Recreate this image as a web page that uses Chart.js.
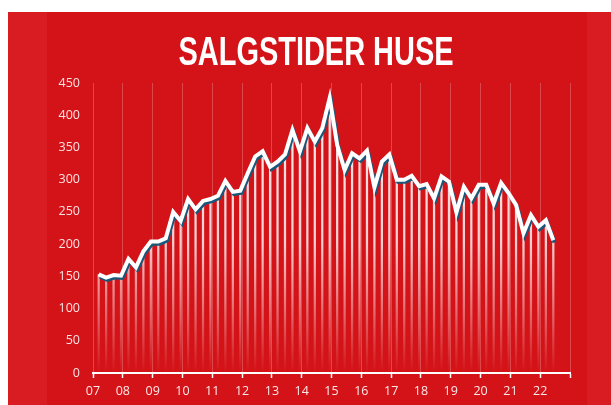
<!DOCTYPE html>
<html>
<head>
<meta charset="utf-8">
<script src="https://cdn.jsdelivr.net/npm/chart.js@4"></script>
<style>
  html, body { margin: 0; padding: 0; background: #fff; }
  #wrap { position: relative; width: 611px; height: 405px; overflow: hidden; }
  #panel {
    position: absolute; left: 8px; top: 12px; right: 0; bottom: 0;
    background: linear-gradient(to right, #d81c22 0, #d81c22 39px, #d41318 39px, #d41318 579px, #d81c22 579px);
  }
  #title {
    position: absolute; left: 316px; top: 29px; white-space: nowrap;
    font: bold 40px 'Liberation Sans', Arial, sans-serif; color: #fff;
    transform-origin: 0 0;
  }
  canvas { position: absolute; left: 0; top: 0; }
</style>
</head>
<body>
<div id="wrap">
  <div id="panel"></div>
  <canvas id="chartSalg" width="611" height="405"></canvas>
  <div id="title">SALGSTIDER HUSE</div>
</div>
<script>
// Salgstider huse, kvartalsvis fra 1. kvt. 2007
const firstYear = 2007;
const lastYear = 2023;
const yearLabels = ['07', '08', '09', '10', '11', '12', '13', '14', '15', '16', '17', '18', '19', '20', '21', '22'];
const salgstider = [
  153, 148, 152, 151, 177, 164, 189, 204, 204, 209, 250, 236,
  270, 254, 267, 270, 275, 298, 281, 283, 310, 336, 344, 320,
  328, 339, 377, 344, 380, 359, 380, 427, 354, 315, 341, 333,
  345, 288, 328, 339, 300, 300, 306, 290, 293, 271, 305, 297,
  249, 289, 271, 292, 292, 263, 295, 279, 261, 217, 245, 227,
  237, 206
];
const yMax = 450;
const yStep = 50;

// smal overskrift: skaler til ca. 275 px bredde, centreret
const titleEl = document.getElementById('title');
const tw = titleEl.getBoundingClientRect().width;
const sx = 275 / tw;
titleEl.style.transform = 'translateX(' + (-275 / 2) + 'px) scaleX(' + sx + ')';

// kvartal i -> placering på tidsaksen
const points = salgstider.map((v, i) => ({ x: firstYear + i / 4 + 0.19, y: v }));

// mørk skygge under linjen
const lineShadow = {
  id: 'lineShadow',
  beforeDatasetDraw(chart, args) {
    if (args.meta.type !== 'line') return;
    const ctx = chart.ctx;
    ctx.save();
    ctx.shadowColor = '#17587a';
    ctx.shadowOffsetX = 1.3;
    ctx.shadowOffsetY = 2.2;
    ctx.shadowBlur = 0;
  },
  afterDatasetDraw(chart, args) {
    if (args.meta.type !== 'line') return;
    chart.ctx.restore();
  }
};

function dropGradient(context) {
  const chart = context.chart;
  const area = chart.chartArea;
  if (!area) return 'rgba(255,255,255,0.7)';
  const g = chart.ctx.createLinearGradient(0, area.top, 0, area.bottom);
  g.addColorStop(0, 'rgba(255,255,255,0.95)');
  g.addColorStop(0.55, 'rgba(255,255,255,0.8)');
  g.addColorStop(1, 'rgba(255,255,255,0.0)');
  return g;
}

const labelFont = { family: "'Open Sans', sans-serif", size: 12.5 };

new Chart(document.getElementById('chartSalg'), {
  data: {
    datasets: [{
      type: 'line',
      data: points,
      borderColor: '#ffffff',
      borderWidth: 4,
      pointRadius: 0,
      tension: 0,
      order: 0
    }, {
      type: 'bar',
      data: points,
      backgroundColor: dropGradient,
      barThickness: 1.6,
      order: 1
    }]
  },
  options: {
    responsive: false,
    animation: false,
    layout: { padding: { left: 0, right: 41, top: 83, bottom: 0 } },
    plugins: {
      legend: { display: false },
      tooltip: { enabled: false }
    },
    scales: {
      x: {
        type: 'linear',
        min: firstYear,
        max: lastYear,
        offset: false,
        afterFit: (s) => { s.height = 32; },
        grid: {
          offset: false,
          color: 'rgba(255,255,255,0.22)',
          lineWidth: 1,
          drawTicks: true,
          tickLength: 5,
          tickColor: '#ffffff',
          tickWidth: 1.5
        },
        border: { display: true, color: '#ffffff', width: 2 },
        ticks: {
          stepSize: 1,
          autoSkip: false,
          maxRotation: 0,
          padding: 6,
          color: 'rgba(255,255,255,0.9)',
          font: labelFont,
          callback: (v) => yearLabels[v - firstYear] ?? ''
        }
      },
      y: {
        min: 0,
        max: yMax,
        afterFit: (s) => { s.width = 93; },
        grid: { display: false, drawTicks: false },
        border: { display: false },
        ticks: {
          stepSize: yStep,
          padding: 13,
          color: 'rgba(255,255,255,0.88)',
          font: labelFont
        }
      }
    }
  },
  plugins: [lineShadow]
});
</script>
</body>
</html>
